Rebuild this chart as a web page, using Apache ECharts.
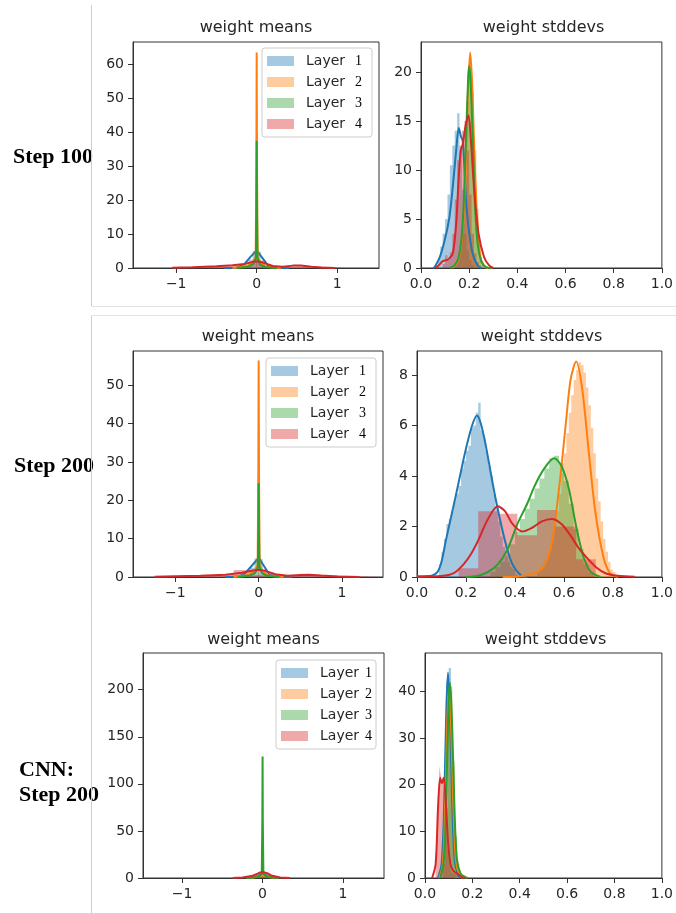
<!DOCTYPE html>
<html>
<head>
<meta charset="utf-8">
<script src="https://cdn.jsdelivr.net/npm/echarts@6/dist/echarts.min.js"></script>
<style>
  html, body { margin: 0; padding: 0; background: #fff; }
  #main { width: 676px; height: 913px; }
</style>
</head>
<body>
<div id="main"></div>
<script>
const layers = ['Layer 1', 'Layer 2', 'Layer 3', 'Layer 4']
const colors = ['#1f77b4', '#ff7f0e', '#2ca02c', '#d62728']
const fills = ['rgba(31,119,180,0.4)', 'rgba(255,127,14,0.4)', 'rgba(44,160,44,0.4)', 'rgba(214,39,40,0.4)']

// ---- weight means, step 100 : kde curves [x, density]
const mean100Kde1 = [[-0.4, 0], [-0.25, 0.1], [-0.15, 1.2], [-0.08, 3.2], [0, 5.2], [0.07, 3.0], [0.14, 0.8], [0.25, 0.05], [0.4, 0]]
const mean100Kde2 = [[-0.3, 0], [-0.12, 0.5], [-0.05, 1.8], [-0.012, 3], [-0.004, 30], [0, 63.5], [0.004, 30], [0.012, 3], [0.05, 1.6], [0.12, 0.4], [0.3, 0]]
const mean100Kde3 = [[-0.25, 0], [-0.1, 0.4], [-0.04, 1.2], [-0.01, 3], [-0.003, 18], [0, 37.5], [0.003, 18], [0.01, 3], [0.04, 1.0], [0.1, 0.3], [0.25, 0]]
const mean100Kde4 = [[-1.05, 0.05], [-0.8, 0.25], [-0.5, 0.55], [-0.3, 0.8], [-0.15, 1.2], [-0.05, 1.8], [0, 2.0], [0.08, 1.6], [0.2, 0.6], [0.32, 0.35], [0.45, 0.7], [0.55, 0.75], [0.68, 0.4], [0.8, 0.15], [0.97, 0.03]]
// histograms: [first bin start, bin width, heights...]
const mean100Hist1 = [-0.15, 0.05, 0.8, 2.5, 5.0, 4.8, 2.2, 0.6]
const mean100Hist2 = [-0.006, 0.012, 62]
const mean100Hist3 = [-0.006, 0.012, 36]
const mean100Hist4 = [-1.1, 0.2, 0.2, 0.3, 0.5, 0.6, 0.9, 1.7, 0.5, 0.5, 0.6, 0.3, 0.1]

// ---- weight stddevs, step 100
const sd100Kde1 = [[0.05, 0], [0.057, 0.1], [0.078, 1.1], [0.098, 2.8], [0.118, 5.2], [0.132, 8.3], [0.146, 12.0], [0.157, 14.3], [0.166, 13.4], [0.173, 13.0], [0.18, 10.3], [0.186, 7.3], [0.197, 4.2], [0.214, 1.5], [0.234, 0.3], [0.25, 0]]
const sd100Kde2 = [[0.13, 0], [0.15, 0.5], [0.165, 2], [0.178, 6], [0.188, 12], [0.196, 18.5], [0.204, 22], [0.212, 19], [0.22, 13], [0.23, 6.5], [0.24, 2.5], [0.25, 0.8], [0.265, 0.1], [0.28, 0]]
const sd100Kde3 = [[0.12, 0], [0.14, 0.3], [0.155, 1], [0.168, 3], [0.178, 7], [0.188, 14], [0.196, 19.5], [0.2, 20.6], [0.206, 19], [0.215, 13], [0.225, 6], [0.235, 2.5], [0.25, 0.7], [0.27, 0.1], [0.3, 0]]
const sd100Kde4 = [[0.06, 0], [0.075, 0.3], [0.09, 0.7], [0.105, 0.8], [0.115, 0.9], [0.132, 1.5], [0.146, 4.5], [0.156, 9], [0.165, 12.0], [0.173, 12.6], [0.185, 14.5], [0.197, 15.6], [0.207, 13.1], [0.221, 7.9], [0.239, 3.5], [0.262, 1.1], [0.282, 0.3], [0.3, 0]]
const sd100Hist1 = [0.06, 0.01, 0.3, 1.0, 2.2, 3.5, 5.0, 7.5, 10.5, 12.5, 14.0, 15.8, 12.0, 8.0, 3.5, 1.8, 0.8, 0.3]
const sd100Hist2 = [0.15, 0.01, 0.8, 2.5, 5.5, 11, 17, 21.5, 18, 12, 6, 2.2, 0.7, 0.2]
const sd100Hist3 = [0.14, 0.01, 0.4, 1.0, 2.2, 4.5, 9.5, 17, 20.5, 15, 8, 3, 1, 0.3]
const sd100Hist4 = [0.09, 0.01, 0.4, 1.3, 0.8, 1.6, 3.5, 7, 11, 12.5, 14, 15, 12, 7.5, 3.5, 1.5, 0.6, 0.2]

// ---- weight means, step 200
const mean200Kde1 = [[-0.4, 0], [-0.25, 0.1], [-0.17, 0.8], [-0.08, 3.0], [0, 5.0], [0.06, 3.0], [0.13, 0.6], [0.25, 0.05], [0.4, 0]]
const mean200Kde2 = [[-0.3, 0], [-0.12, 0.5], [-0.05, 1.6], [-0.012, 3], [-0.004, 28], [0, 56.4], [0.004, 28], [0.012, 3], [0.05, 1.4], [0.12, 0.4], [0.3, 0]]
const mean200Kde3 = [[-0.25, 0], [-0.1, 0.4], [-0.04, 1.1], [-0.01, 2.5], [-0.003, 12], [0, 24.4], [0.003, 12], [0.01, 2.5], [0.04, 1.0], [0.1, 0.3], [0.25, 0]]
const mean200Kde4 = [[-1.25, 0.05], [-1.0, 0.2], [-0.7, 0.35], [-0.4, 0.6], [-0.2, 1.1], [-0.07, 1.7], [0, 1.9], [0.08, 1.6], [0.2, 0.7], [0.35, 0.3], [0.5, 0.5], [0.6, 0.6], [0.75, 0.4], [0.95, 0.15], [1.21, 0.03]]
const mean200Hist1 = [-0.15, 0.05, 0.7, 2.4, 4.8, 4.6, 2.0, 0.5]
const mean200Hist2 = [-0.006, 0.012, 55]
const mean200Hist3 = [-0.006, 0.012, 23]
const mean200Hist4 = [-1.3, 0.25, 0.2, 0.3, 0.5, 0.7, 1.8, 0.6, 0.4, 0.6, 0.4, 0.2, 0.1]

// ---- weight stddevs, step 200
const sd200Kde1 = [[0, 0.02], [0.06, 0.05], [0.084, 0.2], [0.1, 0.6], [0.118, 1.45], [0.158, 3.2], [0.198, 5.0], [0.225, 6.0], [0.245, 6.4], [0.26, 6.1], [0.279, 5.3], [0.319, 3.2], [0.359, 1.45], [0.39, 0.5], [0.426, 0.05], [0.45, 0]]
const sd200Kde2 = [[0.35, 0], [0.44, 0.05], [0.507, 0.3], [0.547, 1.2], [0.58, 3.5], [0.607, 6], [0.627, 7.8], [0.65, 8.53], [0.674, 7.5], [0.701, 5], [0.728, 2.6], [0.761, 0.8], [0.788, 0.15], [0.82, 0]]
const sd200Kde3 = [[0.2, 0], [0.25, 0.05], [0.29, 0.2], [0.33, 0.5], [0.37, 1.1], [0.41, 2.1], [0.45, 2.9], [0.48, 3.6], [0.52, 4.3], [0.56, 4.7], [0.59, 4.4], [0.62, 3.5], [0.65, 2.0], [0.68, 0.8], [0.71, 0.2], [0.75, 0]]
const sd200Kde4 = [[0, 0.02], [0.1, 0.04], [0.15, 0.15], [0.19, 0.5], [0.22, 0.9], [0.25, 1.45], [0.29, 2.3], [0.33, 2.8], [0.36, 2.6], [0.39, 2.1], [0.43, 1.8], [0.47, 1.95], [0.51, 2.2], [0.55, 2.3], [0.59, 2.1], [0.63, 1.6], [0.66, 1.15], [0.69, 0.8], [0.73, 0.4], [0.77, 0.15], [0.82, 0.05], [0.89, 0.01]]
const sd200Hist1 = [0.09, 0.01, 0.5, 1, 1.5, 2.1, 2.3, 2.6, 3.0, 3.3, 3.6, 4.3, 4.6, 5.0, 5.2, 5.9, 6.0, 6.5, 6.9, 5.8, 5.5, 5.0, 4.4, 4.0, 3.3, 2.8, 2.2, 1.6, 1.2, 0.8, 0.6, 0.4, 0.3, 0.1]
const sd200Hist2 = [0.49, 0.01, 0.2, 0.3, 0.4, 0.6, 0.8, 1.1, 1.5, 2.0, 2.6, 3.3, 4.1, 4.9, 5.7, 6.5, 7.2, 7.8, 8.2, 8.5, 8.4, 8.1, 7.5, 6.8, 5.9, 4.9, 3.9, 3.0, 2.2, 1.5, 1.0, 0.6, 0.3, 0.2]
const sd200Hist3 = [0.3, 0.02, 0.2, 0.4, 0.6, 0.9, 1.3, 1.8, 2.3, 2.7, 3.1, 3.5, 3.9, 4.3, 4.7, 4.8, 4.5, 3.8, 2.9, 1.9, 1.1, 0.5, 0.2]
const sd200Hist4 = [0.17, 0.08, 0.35, 2.6, 2.5, 1.65, 2.65, 2.0, 0.7]

// ---- CNN weight means, step 200
const meanCnnKde1 = [[-0.2, 0], [-0.08, 1.5], [0, 4.5], [0.08, 1.5], [0.2, 0]]
const meanCnnKde2 = [[-0.15, 0], [-0.05, 1.5], [0, 3], [0.05, 1.5], [0.15, 0]]
const meanCnnKde3 = [[-0.2, 0], [-0.05, 1], [-0.01, 5], [-0.003, 60], [0, 129], [0.003, 60], [0.01, 5], [0.05, 1], [0.2, 0]]
const meanCnnKde4 = [[-0.37, 0.1], [-0.25, 0.5], [-0.12, 2.5], [-0.04, 5.5], [0, 6.4], [0.05, 5.3], [0.12, 2.3], [0.22, 0.6], [0.34, 0.1]]
const meanCnnHist1 = [-0.1, 0.05, 1.5, 4.0, 4.2, 1.3]
const meanCnnHist2 = [-0.006, 0.012, 110]
const meanCnnHist3 = [-0.006, 0.012, 127]
const meanCnnHist4 = [-0.35, 0.1, 0.3, 1.0, 3.5, 6.0, 3.0, 0.8, 0.2]

// ---- CNN weight stddevs, step 200
const sdCnnKde1 = [[0.055, 0], [0.07, 3], [0.08, 14], [0.09, 36], [0.097, 44], [0.105, 36], [0.115, 16], [0.125, 4], [0.14, 0.5], [0.15, 0]]
const sdCnnKde2 = [[0.06, 0], [0.075, 3], [0.085, 15], [0.095, 35], [0.102, 40], [0.11, 33], [0.12, 15], [0.13, 4], [0.145, 0.6], [0.16, 0]]
const sdCnnKde3 = [[0.065, 0], [0.08, 4], [0.09, 18], [0.1, 38], [0.106, 41.8], [0.115, 32], [0.125, 14], [0.135, 4], [0.15, 1], [0.17, 0.2], [0.18, 0]]
const sdCnnKde4 = [[0.03, 0], [0.045, 3], [0.055, 15], [0.064, 21.5], [0.071, 20.3], [0.079, 21.5], [0.087, 17], [0.097, 8], [0.107, 3], [0.12, 1.5], [0.14, 0.8], [0.155, 0.2], [0.17, 0]]
const sdCnnHist1 = [0.07, 0.01, 3, 16, 42, 45, 20, 6, 1]
const sdCnnHist2 = [0.075, 0.01, 3, 14, 36, 40, 24, 8, 2, 0.5]
const sdCnnHist3 = [0.075, 0.01, 3, 15, 38, 41, 25, 9, 3, 1, 0.4]
const sdCnnHist4 = [0.045, 0.008, 4, 14, 24, 21, 20, 15, 7, 3, 1.5, 1, 0.8, 0.3]

// ---- axis ticks
const meanTicks = [-1, 0, 1]
const sdTicks = [0, 0.2, 0.4, 0.6, 0.8, 1.0]
const yTicks = [
  [0, 10, 20, 30, 40, 50, 60],
  [0, 5, 10, 15, 20],
  [0, 10, 20, 30, 40, 50],
  [0, 2, 4, 6, 8],
  [0, 50, 100, 150, 200],
  [0, 10, 20, 30, 40]
]

// panel boxes in pixels
const panels = [
  { left: 133, top: 42, width: 246, height: 226, x: [-1.537, 1.52], yMax: 66.6, mean: true },
  { left: 421, top: 42, width: 245, height: 226, x: [0, 1], yMax: 23.07 },
  { left: 133, top: 351, width: 250, height: 226, x: [-1.51, 1.494], yMax: 58.9, mean: true },
  { left: 417, top: 351, width: 249, height: 226, x: [0, 1], yMax: 8.95 },
  { left: 143, top: 653, width: 241, height: 225, x: [-1.487, 1.51], yMax: 239, mean: true },
  { left: 425, top: 653, width: 241, height: 225, x: [0, 1], yMax: 48.2 }
]

const panelData = [
  [[mean100Hist1, mean100Hist2, mean100Hist3, mean100Hist4], [mean100Kde1, mean100Kde2, mean100Kde3, mean100Kde4]],
  [[sd100Hist1, sd100Hist2, sd100Hist3, sd100Hist4], [sd100Kde1, sd100Kde2, sd100Kde3, sd100Kde4]],
  [[mean200Hist1, mean200Hist2, mean200Hist3, mean200Hist4], [mean200Kde1, mean200Kde2, mean200Kde3, mean200Kde4]],
  [[sd200Hist1, sd200Hist2, sd200Hist3, sd200Hist4], [sd200Kde1, sd200Kde2, sd200Kde3, sd200Kde4]],
  [[meanCnnHist1, meanCnnHist2, meanCnnHist3, meanCnnHist4], [meanCnnKde1, meanCnnKde2, meanCnnKde3, meanCnnKde4]],
  [[sdCnnHist1, sdCnnHist2, sdCnnHist3, sdCnnHist4], [sdCnnKde1, sdCnnKde2, sdCnnKde3, sdCnnKde4]]
]

// turn [start, width, h...] into the outline of a step histogram
function histSteps(hist) {
  const start = hist[0], w = hist[1], h = hist.slice(2)
  const pts = [[start, 0]]
  h.forEach((v, i) => {
    pts.push([start + i * w, v], [start + (i + 1) * w, v])
  })
  pts.push([start + h.length * w, 0])
  return pts
}

const textColor = '#262626'
const font = 'DejaVu Sans'

const grid = [], xAxis = [], yAxis = [], series = []
panels.forEach((p, gi) => {
  grid.push({ left: p.left, top: p.top, width: p.width, height: p.height, show: true, borderColor: '#333', borderWidth: 1, containLabel: false })
  const xt = p.mean ? meanTicks : sdTicks
  xAxis.push({
    type: 'value', gridIndex: gi, min: p.x[0], max: p.x[1],
    axisLine: { onZero: false, lineStyle: { color: '#333' } },
    axisTick: { length: 5, customValues: xt, lineStyle: { color: '#333' } },
    axisLabel: {
      customValues: xt, margin: 9, color: textColor, fontFamily: font, fontSize: 14,
      formatter: v => p.mean ? (v < 0 ? '\u2212' + Math.abs(v) : String(v)) : v.toFixed(1)
    },
    splitLine: { show: false }
  })
  yAxis.push({
    type: 'value', gridIndex: gi, min: 0, max: p.yMax,
    axisLine: { show: true, onZero: false, lineStyle: { color: '#333' } },
    axisTick: { show: true, length: 5, customValues: yTicks[gi], lineStyle: { color: '#333' } },
    axisLabel: { customValues: yTicks[gi], margin: 9, color: textColor, fontFamily: font, fontSize: 14 },
    splitLine: { show: false }
  })
  const [hists, kdes] = panelData[gi]
  for (let i = 0; i < 4; i++) {
    series.push({
      type: 'line', name: layers[i], xAxisIndex: gi, yAxisIndex: gi,
      data: histSteps(hists[i]), symbol: 'none', silent: true,
      itemStyle: { color: fills[i] },
      lineStyle: { width: 0 },
      areaStyle: { color: fills[i], opacity: 1 }
    })
    series.push({
      type: 'line', name: layers[i], xAxisIndex: gi, yAxisIndex: gi,
      data: kdes[i], symbol: 'none', smooth: p.mean ? false : 0.3, silent: true,
      itemStyle: { color: colors[i] },
      lineStyle: { color: colors[i], width: 2 }
    })
  }
})

function makeLegend(left, top, numGap, padRight) {
  return {
    data: layers.map((n, i) => ({ name: n, icon: 'rect', itemStyle: { color: fills[i], borderWidth: 0 } })),
    orient: 'vertical', left: left, top: top,
    itemWidth: 27, itemHeight: 10, itemGap: 7,
    padding: [6, padRight, 6, 5],
    borderColor: '#ccc', borderWidth: 1, borderRadius: 3,
    backgroundColor: 'rgba(255,255,255,0.8)',
    selectedMode: false,
    formatter: n => '{a|Layer}{b|' + n.slice(6) + '}',
    textStyle: {
      rich: {
        a: { fontFamily: font, fontSize: 14, color: textColor, lineHeight: 14, padding: [0, numGap, 0, 7] },
        b: { fontFamily: 'Liberation Serif', fontSize: 14, color: '#000', lineHeight: 14 }
      }
    }
  }
}

const titleFont = '16px "DejaVu Sans"'
const labelFont = 'bold 22px "Liberation Serif"'
const titles = [
  ['weight means', 256, 28], ['weight stddevs', 543.5, 28],
  ['weight means', 258, 337], ['weight stddevs', 541.5, 337],
  ['weight means', 263.5, 640], ['weight stddevs', 545.5, 640]
]

const graphic = titles.map(t => ({
  type: 'text', x: t[1], y: t[2],
  style: { text: t[0], font: titleFont, fill: textColor, align: 'center', verticalAlign: 'middle' }
})).concat([
  { type: 'text', x: 13, y: 157, style: { text: 'Step 100', font: labelFont, fill: '#000', verticalAlign: 'middle' } },
  { type: 'text', x: 14, y: 466, style: { text: 'Step 200', font: labelFont, fill: '#000', verticalAlign: 'middle' } },
  { type: 'text', x: 19, y: 770, style: { text: 'CNN:', font: labelFont, fill: '#000', verticalAlign: 'middle' } },
  { type: 'text', x: 19, y: 795, style: { text: 'Step 200', font: labelFont, fill: '#000', verticalAlign: 'middle' } },
  // screenshot borders
  { type: 'line', shape: { x1: 91.5, y1: 5, x2: 91.5, y2: 306 }, style: { stroke: '#cfcfcf', lineWidth: 1 } },
  { type: 'line', shape: { x1: 91.5, y1: 306.5, x2: 676, y2: 306.5 }, style: { stroke: '#e2e2e2', lineWidth: 1 } },
  { type: 'line', shape: { x1: 91.5, y1: 315.5, x2: 676, y2: 315.5 }, style: { stroke: '#e2e2e2', lineWidth: 1 } },
  { type: 'line', shape: { x1: 91.5, y1: 315.5, x2: 91.5, y2: 913 }, style: { stroke: '#cfcfcf', lineWidth: 1 } }
])

const chart = echarts.init(document.getElementById('main'), null, { renderer: 'canvas' })
chart.setOption({
  animation: false,
  backgroundColor: '#fff',
  grid: grid,
  xAxis: xAxis,
  yAxis: yAxis,
  legend: [makeLegend(262, 48, 10, 10), makeLegend(266, 358, 10, 10), makeLegend(276, 660, 6, 4)],
  graphic: graphic,
  series: series
})
</script>
</body>
</html>
